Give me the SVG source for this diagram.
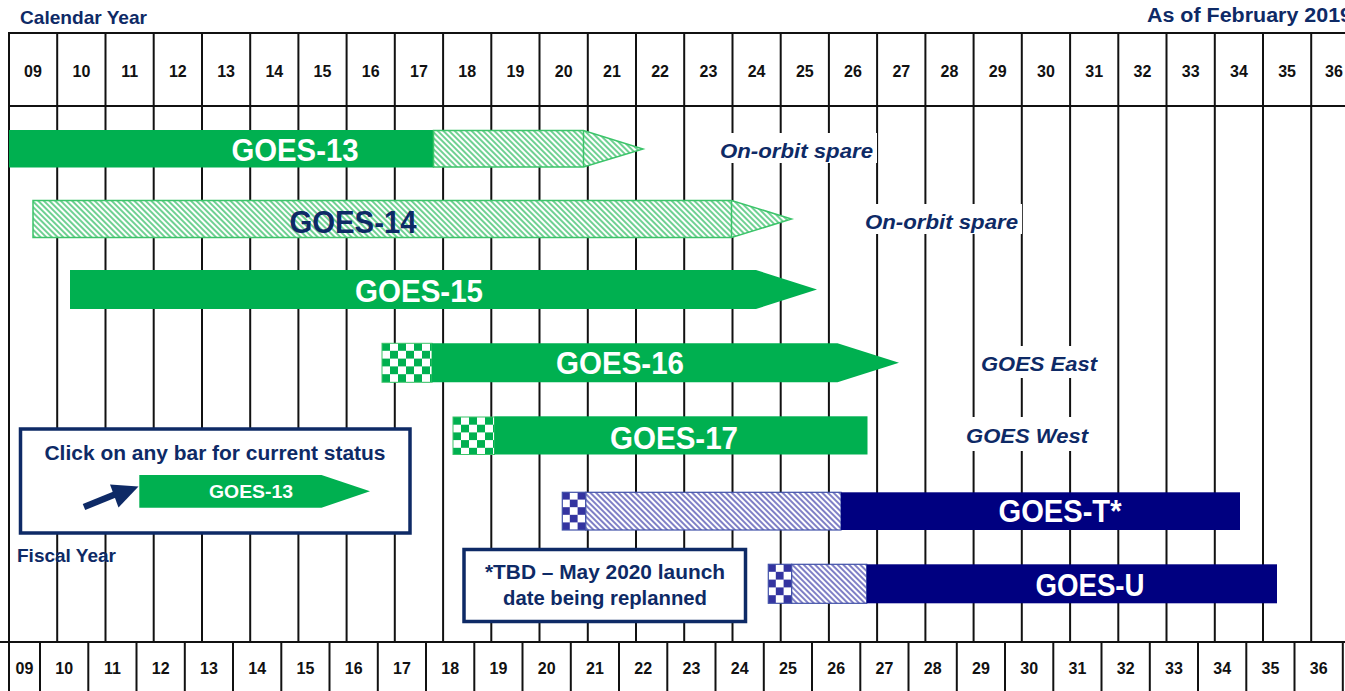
<svg xmlns="http://www.w3.org/2000/svg" width="1345" height="691" viewBox="0 0 1345 691">
<style>
.grid line{stroke:#111;stroke-width:2}
.yr{font-family:"Liberation Sans Narrow","Liberation Sans",Arial,sans-serif;font-weight:bold;font-size:16px;fill:#111;text-anchor:middle}
.hd{font-family:"Liberation Sans",Arial,sans-serif;font-weight:bold;fill:#0e2a66}
.bl{font-family:"Liberation Sans",Arial,sans-serif;font-weight:bold;font-size:31px;text-anchor:middle}
.it{font-family:"Liberation Sans",Arial,sans-serif;font-weight:bold;font-style:italic;font-size:21px;fill:#0e2a66}
.gs{fill:#00b050}
.nv{fill:#000080}
.hg{stroke:#3cc46a;stroke-width:1.5}
.hb{stroke:#4050a8;stroke-width:1.2}
</style>
<defs>
<pattern id="hatchG" patternUnits="userSpaceOnUse" width="4" height="4" patternTransform="rotate(-45)">
<rect width="4" height="4" fill="#fff"/>
<line x1="1" y1="0" x2="1" y2="4" stroke="#22b858" stroke-width="1.3"/>
</pattern>
<pattern id="hatchB" patternUnits="userSpaceOnUse" width="4" height="4" patternTransform="rotate(-45)">
<rect width="4" height="4" fill="#fff"/>
<line x1="1" y1="0" x2="1" y2="4" stroke="#3a3aa8" stroke-width="1.3"/>
</pattern>
<pattern id="checkG1" patternUnits="userSpaceOnUse" x="382" y="343" width="16" height="15.6">
<rect width="16" height="15.6" fill="#fff"/>
<rect width="8" height="7.8" fill="#00b050"/>
<rect x="8" y="7.8" width="8" height="7.8" fill="#00b050"/>
</pattern>
<pattern id="checkG2" patternUnits="userSpaceOnUse" x="453" y="417" width="16" height="15.4">
<rect width="16" height="15.4" fill="#fff"/>
<rect width="8" height="7.7" fill="#00b050"/>
<rect x="8" y="7.7" width="8" height="7.7" fill="#00b050"/>
</pattern>
<pattern id="checkB1" patternUnits="userSpaceOnUse" x="562" y="492" width="15.6" height="15.2">
<rect width="15.6" height="15.2" fill="#fff"/>
<rect width="7.8" height="7.6" fill="#3434a0"/>
<rect x="7.8" y="7.6" width="7.8" height="7.6" fill="#3434a0"/>
</pattern>
<pattern id="checkB2" patternUnits="userSpaceOnUse" x="768" y="564" width="15.6" height="15.6">
<rect width="15.6" height="15.6" fill="#fff"/>
<rect width="7.8" height="7.8" fill="#3434a0"/>
<rect x="7.8" y="7.8" width="7.8" height="7.8" fill="#3434a0"/>
</pattern>
</defs>
<rect width="1345" height="691" fill="#fff"/>

<g id="grid" class="grid">
<line x1="8" y1="33" x2="1345" y2="33"/>
<line x1="8" y1="106" x2="1345" y2="106"/>
<line x1="0" y1="642" x2="1345" y2="642"/>
<line x1="9" y1="33" x2="9" y2="691"/>
<line x1="57.2" y1="33" x2="57.2" y2="642"/>
<line x1="105.5" y1="33" x2="105.5" y2="642"/>
<line x1="153.7" y1="33" x2="153.7" y2="642"/>
<line x1="202" y1="33" x2="202" y2="642"/>
<line x1="250.2" y1="33" x2="250.2" y2="642"/>
<line x1="298.4" y1="33" x2="298.4" y2="642"/>
<line x1="346.6" y1="33" x2="346.6" y2="642"/>
<line x1="394.8" y1="33" x2="394.8" y2="642"/>
<line x1="443.1" y1="33" x2="443.1" y2="642"/>
<line x1="491.3" y1="33" x2="491.3" y2="642"/>
<line x1="539.5" y1="33" x2="539.5" y2="642"/>
<line x1="587.8" y1="33" x2="587.8" y2="642"/>
<line x1="636" y1="33" x2="636" y2="642"/>
<line x1="684.2" y1="33" x2="684.2" y2="642"/>
<line x1="732.5" y1="33" x2="732.5" y2="642"/>
<line x1="780.7" y1="33" x2="780.7" y2="642"/>
<line x1="828.9" y1="33" x2="828.9" y2="642"/>
<line x1="877.1" y1="33" x2="877.1" y2="642"/>
<line x1="925.4" y1="33" x2="925.4" y2="642"/>
<line x1="973.6" y1="33" x2="973.6" y2="642"/>
<line x1="1021.8" y1="33" x2="1021.8" y2="642"/>
<line x1="1070.1" y1="33" x2="1070.1" y2="642"/>
<line x1="1118.3" y1="33" x2="1118.3" y2="642"/>
<line x1="1166.5" y1="33" x2="1166.5" y2="642"/>
<line x1="1214.8" y1="33" x2="1214.8" y2="642"/>
<line x1="1263" y1="33" x2="1263" y2="642"/>
<line x1="1311.2" y1="33" x2="1311.2" y2="642"/>
<line x1="40" y1="642" x2="40" y2="691"/>
<line x1="88.3" y1="642" x2="88.3" y2="691"/>
<line x1="136.5" y1="642" x2="136.5" y2="691"/>
<line x1="184.8" y1="642" x2="184.8" y2="691"/>
<line x1="233" y1="642" x2="233" y2="691"/>
<line x1="281.3" y1="642" x2="281.3" y2="691"/>
<line x1="329.5" y1="642" x2="329.5" y2="691"/>
<line x1="377.8" y1="642" x2="377.8" y2="691"/>
<line x1="426" y1="642" x2="426" y2="691"/>
<line x1="474.3" y1="642" x2="474.3" y2="691"/>
<line x1="522.5" y1="642" x2="522.5" y2="691"/>
<line x1="570.8" y1="642" x2="570.8" y2="691"/>
<line x1="619" y1="642" x2="619" y2="691"/>
<line x1="667.3" y1="642" x2="667.3" y2="691"/>
<line x1="715.5" y1="642" x2="715.5" y2="691"/>
<line x1="763.8" y1="642" x2="763.8" y2="691"/>
<line x1="812" y1="642" x2="812" y2="691"/>
<line x1="860.3" y1="642" x2="860.3" y2="691"/>
<line x1="908.5" y1="642" x2="908.5" y2="691"/>
<line x1="956.8" y1="642" x2="956.8" y2="691"/>
<line x1="1005" y1="642" x2="1005" y2="691"/>
<line x1="1053.3" y1="642" x2="1053.3" y2="691"/>
<line x1="1101.5" y1="642" x2="1101.5" y2="691"/>
<line x1="1149.8" y1="642" x2="1149.8" y2="691"/>
<line x1="1198" y1="642" x2="1198" y2="691"/>
<line x1="1246.3" y1="642" x2="1246.3" y2="691"/>
<line x1="1294.5" y1="642" x2="1294.5" y2="691"/>
<line x1="1342.8" y1="642" x2="1342.8" y2="691"/>
</g>

<g id="headers">
<text class="hd" x="20" y="24" font-size="18.5" textLength="127" lengthAdjust="spacingAndGlyphs">Calendar Year</text>
<text class="hd" x="1147" y="22" font-size="19.5" textLength="205" lengthAdjust="spacingAndGlyphs">As of February 2019</text>
<text class="hd" x="17" y="561.5" font-size="18" textLength="99" lengthAdjust="spacingAndGlyphs">Fiscal Year</text>
</g>

<g id="top-years" class="yr">
<text x="33" y="77">09</text><text x="81.4" y="77">10</text><text x="129.6" y="77">11</text><text x="177.8" y="77">12</text><text x="226.1" y="77">13</text><text x="274.3" y="77">14</text><text x="322.5" y="77">15</text><text x="370.7" y="77">16</text><text x="419" y="77">17</text><text x="467.2" y="77">18</text><text x="515.4" y="77">19</text><text x="563.7" y="77">20</text><text x="611.9" y="77">21</text><text x="660.1" y="77">22</text><text x="708.4" y="77">23</text><text x="756.6" y="77">24</text><text x="804.8" y="77">25</text><text x="853" y="77">26</text><text x="901.3" y="77">27</text><text x="949.5" y="77">28</text><text x="997.7" y="77">29</text><text x="1046" y="77">30</text><text x="1094.2" y="77">31</text><text x="1142.4" y="77">32</text><text x="1190.7" y="77">33</text><text x="1238.9" y="77">34</text><text x="1287.1" y="77">35</text><text x="1334" y="77">36</text>
</g>

<g id="bottom-years" class="yr">
<text x="24.5" y="674">09</text><text x="64.2" y="674">10</text><text x="112.4" y="674">11</text><text x="160.7" y="674">12</text><text x="208.9" y="674">13</text><text x="257.2" y="674">14</text><text x="305.4" y="674">15</text><text x="353.7" y="674">16</text><text x="401.9" y="674">17</text><text x="450.2" y="674">18</text><text x="498.4" y="674">19</text><text x="546.7" y="674">20</text><text x="594.9" y="674">21</text><text x="643.2" y="674">22</text><text x="691.4" y="674">23</text><text x="739.7" y="674">24</text><text x="787.9" y="674">25</text><text x="836.2" y="674">26</text><text x="884.4" y="674">27</text><text x="932.7" y="674">28</text><text x="980.9" y="674">29</text><text x="1029.2" y="674">30</text><text x="1077.4" y="674">31</text><text x="1125.7" y="674">32</text><text x="1173.9" y="674">33</text><text x="1222.2" y="674">34</text><text x="1270.4" y="674">35</text><text x="1318.7" y="674">36</text>
</g>

<g id="goes13">
<rect class="gs" x="9" y="130" width="425" height="37.5"/>
<path d="M433.5,130.5 H583.5 L643,149 L583.5,167 H433.5 Z" fill="url(#hatchG)" class="hg"/>
<line x1="583.5" y1="130.5" x2="583.5" y2="167" class="hg"/>
<text class="bl" x="295" y="160.5" fill="#fff" textLength="127" lengthAdjust="spacingAndGlyphs">GOES-13</text>
</g>

<g id="goes14">
<path d="M33,200.5 H731.5 L791.5,219 L731.5,237.5 H33 Z" fill="url(#hatchG)" class="hg"/>
<line x1="731.5" y1="200.5" x2="731.5" y2="237.5" class="hg"/>
<text class="bl" x="353" y="233" fill="#0e2a66" textLength="127" lengthAdjust="spacingAndGlyphs">GOES-14</text>
</g>

<g id="goes15">
<path d="M70,270 H756 L817,289.5 L756,309 H70 Z" class="gs"/>
<text class="bl" x="419" y="301.5" fill="#fff" textLength="128" lengthAdjust="spacingAndGlyphs">GOES-15</text>
</g>

<g id="goes16">
<rect x="382" y="343.3" width="50" height="39" fill="url(#checkG1)" stroke="#3cc46a" stroke-width="1"/>
<path d="M432,343.3 H837.5 L899,362.7 L837.5,382.3 H432 Z" class="gs"/>
<text class="bl" x="620" y="374" fill="#fff" textLength="128" lengthAdjust="spacingAndGlyphs">GOES-16</text>
</g>

<g id="goes17">
<rect x="453" y="417" width="41.5" height="37.5" fill="url(#checkG2)" stroke="#3cc46a" stroke-width="1"/>
<rect class="gs" x="494.5" y="416.3" width="373" height="38.2"/>
<text class="bl" x="674" y="449" fill="#fff" textLength="128" lengthAdjust="spacingAndGlyphs">GOES-17</text>
</g>

<g id="goesT">
<rect x="562.3" y="492.3" width="23.5" height="37.7" fill="url(#checkB1)" class="hb"/>
<rect x="585.8" y="492.3" width="255.2" height="37.7" fill="url(#hatchB)" class="hb"/>
<rect class="nv" x="841" y="492.3" width="399" height="37.7"/>
<text class="bl" x="1060" y="522" fill="#fff" textLength="123" lengthAdjust="spacingAndGlyphs">GOES-T*</text>
</g>

<g id="goesU">
<rect x="768.3" y="564.3" width="23.4" height="39" fill="url(#checkB2)" class="hb"/>
<rect x="791.7" y="564.3" width="75" height="39" fill="url(#hatchB)" class="hb"/>
<rect class="nv" x="866.7" y="564.3" width="410.3" height="39"/>
<text class="bl" x="1090" y="596" fill="#fff" textLength="109" lengthAdjust="spacingAndGlyphs">GOES-U</text>
</g>

<g id="status-labels">
<rect x="716" y="133" width="161" height="30" fill="#fff"/>
<text class="it" x="720" y="158" textLength="153" lengthAdjust="spacingAndGlyphs">On-orbit spare</text>
<rect x="861" y="204" width="161" height="30" fill="#fff"/>
<text class="it" x="865" y="229" textLength="153" lengthAdjust="spacingAndGlyphs">On-orbit spare</text>
<rect x="977" y="346" width="124" height="32" fill="#fff"/>
<text class="it" x="981" y="371" textLength="116" lengthAdjust="spacingAndGlyphs">GOES East</text>
<rect x="962" y="417" width="130" height="34" fill="#fff"/>
<text class="it" x="966" y="443" textLength="122" lengthAdjust="spacingAndGlyphs">GOES West</text>
</g>

<g id="legend">
<rect x="20.5" y="429" width="389.5" height="104" fill="#fff" stroke="#0e2a66" stroke-width="3.5"/>
<text class="hd" x="215" y="460" font-size="20" text-anchor="middle" textLength="341" lengthAdjust="spacingAndGlyphs">Click on any bar for current status</text>
<path d="M139.3,475 H321.5 L370,491.3 L321.5,507.7 H139.3 Z" class="gs"/>
<text x="251" y="497.5" font-family="Liberation Sans, Arial, sans-serif" font-weight="bold" font-size="19" fill="#fff" text-anchor="middle" textLength="84" lengthAdjust="spacingAndGlyphs">GOES-13</text>
<line x1="84" y1="507" x2="116" y2="494" stroke="#0e2a66" stroke-width="6.5"/>
<polygon points="110,484.5 138.5,486.5 118.5,507.5" fill="#0e2a66"/>
</g>

<g id="tbd-note">
<rect x="464" y="549.5" width="281.5" height="72" fill="#fff" stroke="#0e2a66" stroke-width="3.5"/>
<text class="hd" x="605" y="579" font-size="20" text-anchor="middle" textLength="240" lengthAdjust="spacingAndGlyphs">*TBD – May 2020 launch</text>
<text class="hd" x="605" y="605" font-size="20" text-anchor="middle" textLength="204" lengthAdjust="spacingAndGlyphs">date being replanned</text>
</g>
</svg>
